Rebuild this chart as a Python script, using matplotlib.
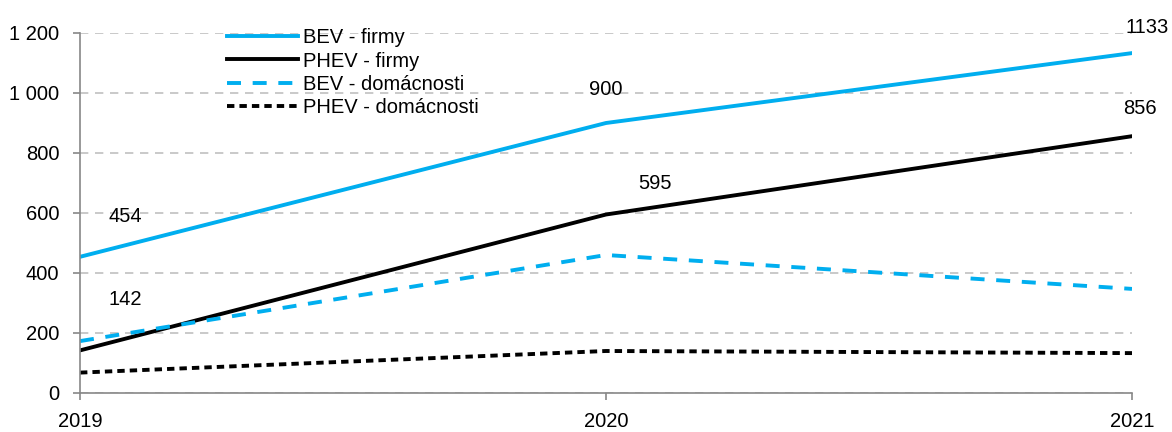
import matplotlib
matplotlib.use("Agg")
import matplotlib.pyplot as plt
from matplotlib.ticker import FuncFormatter

plt.rcParams["font.family"] = ["Liberation Sans", "DejaVu Sans"]

years = [2019, 2020, 2021]
bev_firmy = [454, 900, 1133]
phev_firmy = [142, 595, 856]
bev_domacnosti = [173, 460, 347]
phev_domacnosti = [68, 140, 133]

# labelled points: (year, value, offset in px)
labels = [
    (2019, 454, (45, 40)),
    (2019, 142, (45, 51)),
    (2020, 900, (0, 33)),
    (2020, 595, (49, 31)),
    (2021, 1133, (15, 26)),
    (2021, 856, (8, 28)),
]

blue = "#00AEEF"
lw = 2.8
fs = 14.5
fig = plt.figure(figsize=(11.72, 4.32), dpi=100)
ax = fig.add_axes([80 / 1172, 39 / 432, 1052 / 1172, 360 / 432])

ax.plot(years, bev_firmy, color=blue, lw=lw, label="BEV - firmy")
ax.plot(years, phev_firmy, color="black", lw=lw, label="PHEV - firmy")
ax.plot(years, bev_domacnosti, color=blue, lw=lw, dashes=(3.6, 3.0),
        label="BEV - domácnosti")
ax.plot(years, phev_domacnosti, color="black", lw=lw, dashes=(1.9, 1.3),
        label="PHEV - domácnosti")

for x, v, off in labels:
    ax.annotate(str(v), (x, v), xytext=off, textcoords="offset pixels",
                ha="center", va="center", fontsize=fs, annotation_clip=False)

ax.set_xlim(2019, 2021)
ax.set_ylim(0, 1200)
ax.set_xticks(years)
ax.set_xticklabels([str(y) for y in years])
ax.set_yticks(range(0, 1201, 200))
ax.yaxis.set_major_formatter(FuncFormatter(lambda v, p: f"{int(v):,}".replace(",", " ")))
ax.tick_params(axis="both", labelsize=fs, color="#888888", length=5, width=1.2)
ax.tick_params(axis="x", pad=9)
ax.tick_params(axis="y", pad=10)

ax.grid(axis="y", color="#c0c0c0", linestyle=(0, (5, 4)), lw=1.2)
ax.set_axisbelow(True)
for s in ["top", "right"]:
    ax.spines[s].set_visible(False)
for s in ["left", "bottom"]:
    ax.spines[s].set_color("#888888")
    ax.spines[s].set_linewidth(1.2)

ax.legend(loc="upper left", bbox_to_anchor=(0.132, 1.036), frameon=False,
          fontsize=fs, handlelength=3.55, handletextpad=0.25, labelspacing=0.22,
          borderaxespad=0)

fig.savefig("out.png", dpi=100)
